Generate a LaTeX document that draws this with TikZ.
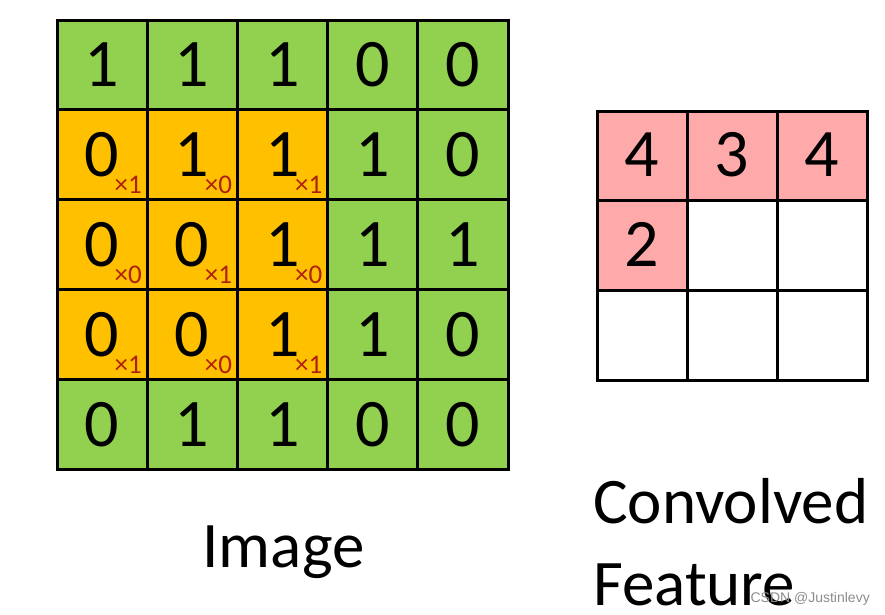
\documentclass[tikz,border=0pt]{standalone}
\usepackage{fontspec}
\setmainfont{Carlito}
\newfontfamily\wmfont{Liberation Sans}
\definecolor{imggreen}{RGB}{146,208,80}
\definecolor{kerorange}{RGB}{255,192,0}
\definecolor{featpink}{RGB}{255,170,170}
\definecolor{kerred}{RGB}{176,32,16}
\tikzset{
  digit/.style={font=\fontsize{68}{68}\selectfont,inner sep=0pt},
  weight/.style={font=\fontsize{27}{27}\selectfont,text=kerred,inner sep=0pt,anchor=base east},
  caption/.style={font=\fontsize{65}{65}\selectfont,inner sep=0pt},
  gridline/.style={line width=3pt,line cap=rect}
}
\begin{document}
\begin{tikzpicture}[x=1pt,y=-1pt]
\useasboundingbox (0,0) rectangle (885,614);
% image 5x5
\fill[imggreen] (57,20) rectangle (508,469);
\fill[kerorange] (57,109.8) rectangle (327.6,379.2);
\foreach \i in {0,...,5}{
  \draw[gridline] (57+90.2*\i,20) -- (57+90.2*\i,469);
  \draw[gridline] (57,20+89.8*\i) -- (508,20+89.8*\i);
}
\foreach \vals [count=\r from 0] in {{1,1,1,0,0},{0,1,1,1,0},{0,0,1,1,1},{0,0,1,1,0},{0,1,1,0,0}}
  \foreach \v [count=\c from 0] in \vals
    \node[digit] (img-\r-\c) at (102+90.2*\c,65+89.8*\r) {\v};
% kernel weights
\foreach \r/\c/\w in {1/0/1,1/1/0,1/2/1,2/0/0,2/1/1,2/2/0,3/0/1,3/1/0,3/2/1}
  \node[weight] (w-\r-\c) at (142+90.2*\c,104+89.8*\r) {×\w};
% convolved feature 3x3
\fill[featpink] (597,111) rectangle (867,200.7);
\fill[featpink] (597,200.7) rectangle (687,290.4);
\foreach \i in {0,...,3}{
  \draw[gridline] (597+90*\i,111) -- (597+90*\i,380);
  \draw[gridline] (597,111+89.7*\i) -- (867,111+89.7*\i);
}
\foreach \r/\c/\v in {0/0/4,0/1/3,0/2/4,1/0/2}
  \node[digit] (feat-\r-\c) at (642+90*\c,155+89.7*\r) {\v};
% captions
\node[caption,anchor=base] (img-cap) at (283.5,567) {Image};
\node[caption,anchor=base west] (feat-cap1) at (593,523) {Convolved};
\node[caption,anchor=base west] (feat-cap2) at (593,605) {Feature};
\node[font=\fontsize{14}{14}\selectfont\wmfont,text=black!45,inner sep=0pt,anchor=base east] (wm) at (870,602) {CSDN @Justinlevy};
\end{tikzpicture}
\end{document}
